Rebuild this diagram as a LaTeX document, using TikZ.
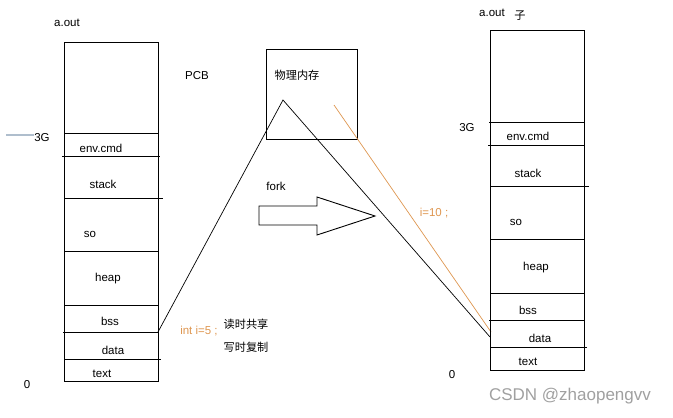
\documentclass[tikz,border=0pt]{standalone}
\usepackage{fontspec}
\setmainfont{Liberation Sans}
\newfontfamily\cjk{Noto Sans CJK SC}
\definecolor{orangec}{RGB}{222,150,80}
\definecolor{wmark}{RGB}{160,160,160}
\definecolor{tickc}{RGB}{175,190,205}
\begin{document}
\begin{tikzpicture}[x=1pt,y=-1pt,
  box/.style={draw=black,line width=0.8pt},
  seg/.style={draw=black,line width=0.8pt},
  lbl/.style={inner sep=0pt,font=\fontsize{11.5}{13}\selectfont},
  clbl/.style={inner sep=0pt,font=\cjk\fontsize{11.2}{13}\selectfont},
  olbl/.style={inner sep=0pt,text=orangec,font=\fontsize{11.5}{13}\selectfont},
  link/.style={draw=black,line width=0.7pt},
  olink/.style={draw=orangec,line width=0.7pt}]
\useasboundingbox (0,0) rectangle (673,418);
% ---------- left stack ----------
\draw[box] (64,42) rectangle (158,381);
\draw[seg] (64,133) -- (158,133);
\draw[seg] (62,156) -- (160,156);
\draw[seg] (64,198) -- (163,198);
\draw[seg] (64,251) -- (158,251);
\draw[seg] (64,305) -- (158,305);
\draw[seg] (63,332) -- (158,332);
\draw[seg] (64,359) -- (161,359);
\node[lbl] (aoutL) at (67,23) {a.out};
\node[lbl] (pcb) at (197,76) {PCB};
\node[lbl] (gL) at (42,138) {3G};
\draw[tickc,line width=1.2pt] (6,135) -- (34,135);
\node[lbl] (envL) at (101,148) {env.cmd};
\node[lbl] (stackL) at (103,184) {stack};
\node[lbl] (soL) at (90,234) {so};
\node[lbl] (heapL) at (108,279) {heap};
\node[lbl] (bssL) at (110,321) {bss};
\node[lbl] (dataL) at (113,350) {data};
\node[lbl] (textL) at (102,374) {text};
\node[lbl] (zeroL) at (27,385) {0};
% ---------- physical memory ----------
\draw[box] (266,49) rectangle (357,139);
\node[clbl] (phys) at (297,75) {物理内存};
\coordinate (apex) at (283,100);
\coordinate (oStart) at (334,105);
\coordinate (leftEnd) at (158,332);
\coordinate (rightEnd) at (490,337);
\coordinate (rightEndO) at (491,332);
\draw[link] (leftEnd) -- (apex) -- (rightEnd);
\draw[olink] (oStart) -- (rightEndO);
% ---------- fork arrow ----------
\node[lbl] (fork) at (276,186) {fork};
\draw[line width=0.9pt] (259,206) -- (317,206) -- (317,197) -- (375,216) -- (317,235) -- (317,225) -- (259,225) -- cycle;
\node[olbl] (i10) at (434,213) {i=10 ;};
\node[olbl] (i5) at (199,331) {int i=5 ;};
\node[clbl] (read) at (246,324) {读时共享};
\node[clbl] (write) at (246,347) {写时复制};
% ---------- right stack ----------
\draw[box] (490,30) rectangle (584,370);
\draw[seg] (489,122) -- (584,122);
\draw[seg] (488,145) -- (585,145);
\draw[seg] (490,186) -- (589,186);
\draw[seg] (490,239) -- (584,239);
\draw[seg] (490,293) -- (584,293);
\draw[seg] (489,320) -- (584,320);
\draw[seg] (490,347) -- (587,347);
\node[lbl] (aoutR) at (492,13) {a.out};
\node[clbl] (zi) at (520,16) {子};
\node[lbl] (gR) at (467,128) {3G};
\node[lbl] (envR) at (528,136) {env.cmd};
\node[lbl] (stackR) at (528,173) {stack};
\node[lbl] (soR) at (516,222) {so};
\node[lbl] (heapR) at (536,268) {heap};
\node[lbl] (bssR) at (528,310) {bss};
\node[lbl] (dataR) at (540,338) {data};
\node[lbl] (textR) at (528,362) {text};
\node[lbl] (zeroR) at (452,375) {0};
\node[inner sep=0pt,text=wmark,font=\fontsize{17}{19}\selectfont] (wm) at (570,396) {CSDN @zhaopengvv};
\end{tikzpicture}
\end{document}
